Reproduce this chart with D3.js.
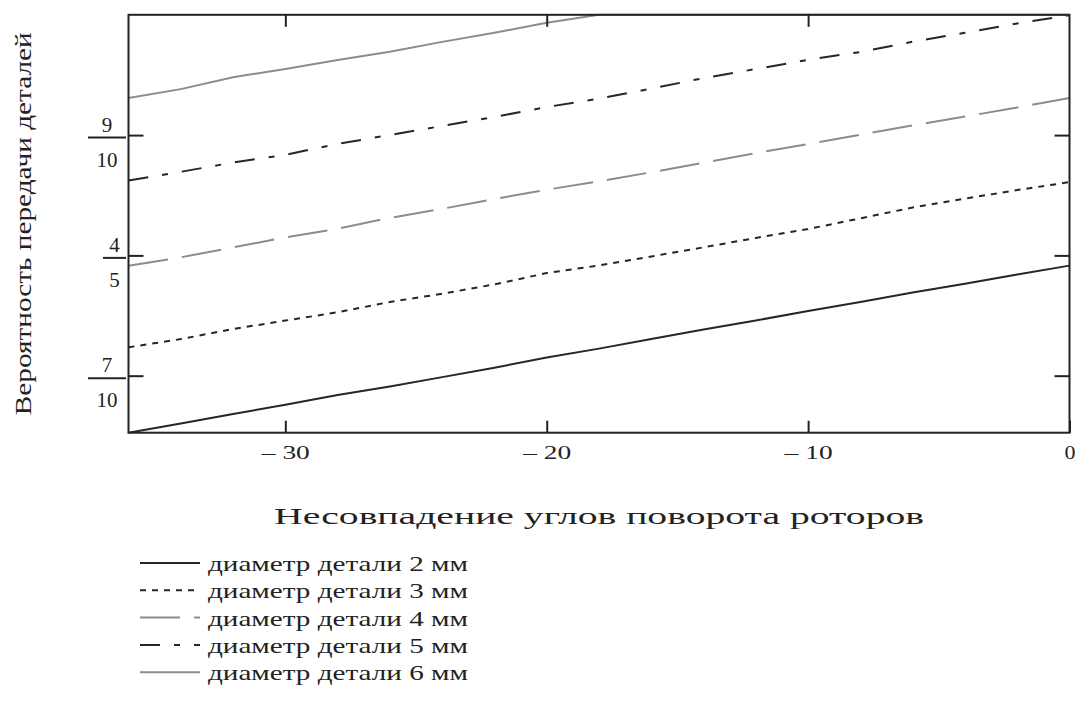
<!DOCTYPE html>
<html>
<head>
    <meta charset="utf-8">
    <title>Вероятность передачи деталей</title>
    <script src="https://d3js.org/d3.v7.min.js"></script>
    <style>
        body, html {
            margin: 0;
            padding: 0;
            background: #fff;
        }
        svg {
            display: block;
            font-family: "Liberation Serif", "Times New Roman", serif;
        }
        .frame {
            fill: none;
            stroke: #222;
            stroke-width: 2px;
        }
        .axis path {
            display: none;
        }
        .axis line {
            stroke: #222;
            stroke-width: 2px;
        }
        .axis text {
            font-family: "Liberation Serif", serif;
            font-size: 19px;
            fill: #222;
        }
        .series {
            fill: none;
            stroke-width: 2px;
        }
    </style>
</head>
<body>
    <svg width="1082" height="721"></svg>

    <script>
        // Angle mismatch (x) and probabilities for each part diameter
        const angles = [-36, -34, -32, -30, -28, -26, -24, -22, -20, -18, -16, -14, -12, -10, -8, -6, -4, -2, 0];
        const p2mm = [0.6526, 0.6602, 0.6681, 0.6758, 0.6839, 0.6910, 0.6988, 0.7066, 0.7151, 0.7225,
                      0.7305, 0.7384, 0.7459, 0.7537, 0.7613, 0.7691, 0.7765, 0.7842, 0.7915];
        const p3mm = [0.7236, 0.7304, 0.7388, 0.7458, 0.7527, 0.7613, 0.7681, 0.7759, 0.7853, 0.7916,
                      0.7991, 0.8067, 0.8145, 0.8219, 0.8308, 0.8398, 0.8472, 0.8543, 0.8609];
        const p4mm = [0.7913, 0.7984, 0.8066, 0.8149, 0.8222, 0.8312, 0.8387, 0.8469, 0.8546, 0.8616,
                      0.8691, 0.8770, 0.8851, 0.8926, 0.9004, 0.9080, 0.9154, 0.9229, 0.9308];
        const p5mm = [0.8622, 0.8695, 0.8772, 0.8836, 0.8927, 0.9001, 0.9076, 0.9151, 0.9233, 0.9304,
                      0.9386, 0.9474, 0.9549, 0.9626, 0.9691, 0.9776, 0.9851, 0.9928, 0.9997];
        const p6mm = [0.9308, 0.9382, 0.9481, 0.9550, 0.9625, 0.9693, 0.9775, 0.9851, 0.9933, 1.0,
                      1.0, 1.0, 1.0, 1.0, 1.0, 1.0, 1.0, 1.0, 1.0];

        const seriesLabels = ["диаметр детали 2 мм", "диаметр детали 3 мм", "диаметр детали 4 мм",
                              "диаметр детали 5 мм", "диаметр детали 6 мм"];
        const xTicks = [-30, -20, -10, 0];
        const yTicks = [0.7, 0.8, 0.9];
        const yTickNum = ["7", "4", "9"];
        const yTickDen = ["10", "5", "10"];

        // line styles, one per series
        const styles = [
            { color: "#262626", dash: null },
            { color: "#262626", dash: "6,6" },
            { color: "#8c8c8c", dash: "40,14" },
            { color: "#262626", dash: "20,14,6,14" },
            { color: "#8c8c8c", dash: null }
        ];

        const allSeries = [p2mm, p3mm, p4mm, p5mm, p6mm];

        const svg = d3.select("svg");

        const x = d3.scaleLinear()
            .domain(d3.extent(angles))
            .range([128.5, 1069.5]);

        const y = d3.scaleLinear()
            .domain(d3.extent(allSeries.flat()))
            .range([432.7, 14.8]);

        // Draw the curves
        const line = d3.line()
            .x((d, i) => x(angles[i]))
            .y(d => y(d));

        svg.append("g")
            .selectAll("path")
            .data(allSeries)
            .enter().append("path")
            .attr("class", "series")
            .attr("d", line)
            .attr("stroke", (d, i) => styles[i].color)
            .attr("stroke-dasharray", (d, i) => styles[i].dash);

        // Inner ticks on all four sides
        const xFmt = d => d === 0 ? "0" : "\u2013 " + Math.abs(d);

        const xAxis = svg.append("g")
            .attr("class", "axis")
            .attr("transform", `translate(0,${y.range()[0]})`)
            .call(d3.axisBottom(x).tickValues(xTicks).tickSize(-12).tickPadding(13).tickFormat(xFmt));

        // stretched labels like the original
        xAxis.selectAll("text")
            .attr("textLength", d => d === 0 ? 11 : 48)
            .attr("lengthAdjust", "spacingAndGlyphs");

        svg.append("g")
            .attr("class", "axis")
            .attr("transform", `translate(0,${y.range()[1]})`)
            .call(d3.axisTop(x).tickValues(xTicks.slice(0, 3)).tickSize(-12).tickFormat(""));

        svg.append("g")
            .attr("class", "axis")
            .attr("transform", `translate(${x.range()[0]},0)`)
            .call(d3.axisLeft(y).tickValues(yTicks).tickSize(-15).tickFormat(""));

        svg.append("g")
            .attr("class", "axis")
            .attr("transform", `translate(${x.range()[1]},0)`)
            .call(d3.axisRight(y).tickValues(yTicks).tickSize(-15).tickFormat(""));

        // Frame
        svg.append("rect")
            .attr("class", "frame")
            .attr("x", x.range()[0])
            .attr("y", y.range()[1])
            .attr("width", x.range()[1] - x.range()[0])
            .attr("height", y.range()[0] - y.range()[1]);

        // Fraction tick labels on y
        const frac = svg.append("g")
            .selectAll("g")
            .data(yTicks)
            .enter().append("g")
            .attr("transform", d => `translate(0,${y(d)})`);

        frac.each(function(d, i) {
            const g = d3.select(this);
            const w = yTickDen[i].length > 1 ? 38 : 23;
            const cx = 126 - w / 2;
            g.append("line")
                .attr("x1", 126 - w).attr("x2", 126)
                .attr("y1", 2.5).attr("y2", 2.5)
                .attr("stroke", "#222").attr("stroke-width", 2);
            g.append("text")
                .attr("x", cx).attr("y", -3.5)
                .attr("text-anchor", "middle")
                .attr("font-size", 21).attr("fill", "#222")
                .text(yTickNum[i]);
            g.append("text")
                .attr("x", cx).attr("y", 31.5)
                .attr("text-anchor", "middle")
                .attr("font-size", 21).attr("fill", "#222")
                .text(yTickDen[i]);
        });

        // Axis titles
        svg.append("text")
            .attr("x", (x.range()[0] + x.range()[1]) / 2)
            .attr("y", 524)
            .attr("text-anchor", "middle")
            .attr("font-size", 23)
            .attr("textLength", 650)
            .attr("lengthAdjust", "spacingAndGlyphs")
            .attr("fill", "#222")
            .text("Несовпадение углов поворота роторов");

        svg.append("text")
            .attr("transform", `translate(31,${(y.range()[0] + y.range()[1]) / 2}) rotate(-90)`)
            .attr("text-anchor", "middle")
            .attr("font-size", 24)
            .attr("textLength", 383)
            .attr("lengthAdjust", "spacingAndGlyphs")
            .attr("fill", "#222")
            .text("Вероятность передачи деталей");

        // Legend
        const legend = svg.append("g")
            .selectAll("g")
            .data(seriesLabels)
            .enter().append("g")
            .attr("transform", (d, i) => `translate(0,${563 + i * 27.3})`);

        legend.append("line")
            .attr("x1", 140).attr("x2", 200)
            .attr("y1", 0).attr("y2", 0)
            .attr("stroke-width", 2)
            .attr("stroke", (d, i) => styles[i].color)
            .attr("stroke-dasharray", (d, i) => styles[i].dash);

        legend.append("text")
            .attr("x", 208)
            .attr("y", 8)
            .attr("font-size", 22)
            .attr("textLength", 260)
            .attr("lengthAdjust", "spacingAndGlyphs")
            .attr("fill", "#222")
            .text(d => d);
    </script>
</body>
</html>
